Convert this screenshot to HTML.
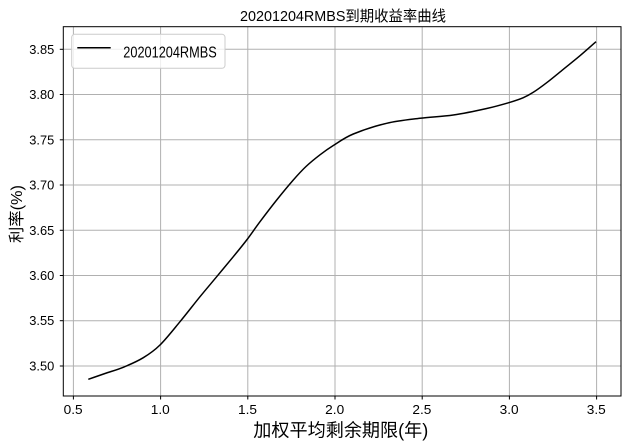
<!DOCTYPE html>
<html><head><meta charset="utf-8"><style>
html,body{margin:0;padding:0;background:#fff;}
svg{display:block;}
text{font-family:"Liberation Sans","Noto Sans CJK SC",sans-serif;fill:#000;}
</style></head><body>
<svg width="632" height="444" viewBox="0 0 632 444" xmlns="http://www.w3.org/2000/svg">
<rect x="0" y="0" width="632" height="444" fill="#fff"/>
<!-- grid -->
<g stroke="#b0b0b0" stroke-width="1" fill="none">
<line x1="73.4" y1="26.7" x2="73.4" y2="396"/>
<line x1="160.6" y1="26.7" x2="160.6" y2="396"/>
<line x1="247.8" y1="26.7" x2="247.8" y2="396"/>
<line x1="335" y1="26.7" x2="335" y2="396"/>
<line x1="422.2" y1="26.7" x2="422.2" y2="396"/>
<line x1="509.4" y1="26.7" x2="509.4" y2="396"/>
<line x1="596.6" y1="26.7" x2="596.6" y2="396"/>
<line x1="63.3" y1="49.3" x2="621" y2="49.3"/>
<line x1="63.3" y1="94.5" x2="621" y2="94.5"/>
<line x1="63.3" y1="139.8" x2="621" y2="139.8"/>
<line x1="63.3" y1="185" x2="621" y2="185"/>
<line x1="63.3" y1="230.3" x2="621" y2="230.3"/>
<line x1="63.3" y1="275.5" x2="621" y2="275.5"/>
<line x1="63.3" y1="320.7" x2="621" y2="320.7"/>
<line x1="63.3" y1="366" x2="621" y2="366"/>
</g>
<!-- curve -->
<path fill="none" stroke="#000" stroke-width="1.5" stroke-linejoin="round" d="M88.3,379.3
C93.87,377.37 99.17,375.5 105,373.5
C110.83,371.5 116.92,369.93 123.3,367.3
C129.68,364.67 137.18,361.42 143.3,357.7
C149.42,353.98 153.88,351 160,345
C166.12,339 173.33,329.75 180,321.7
C186.67,313.65 193.88,304.2 200,296.7
C206.12,289.2 211.15,283.37 216.7,276.7
C222.25,270.03 228.3,262.82 233.3,256.7
C238.3,250.58 242.25,245.83 246.7,240
C251.15,234.17 255,228.37 260,221.7
C265,215.03 271.15,206.95 276.7,200
C282.25,193.05 288.42,185.58 293.3,180
C298.18,174.42 301.55,170.7 306,166.5
C310.45,162.3 315.45,158.3 320,154.8
C324.55,151.3 327.75,148.97 333.3,145.5
C338.85,142.03 344.4,137.7 353.3,134
C362.2,130.3 375.58,125.92 386.7,123.3
C397.82,120.68 408.9,119.68 420,118.3
C431.1,116.92 442.18,116.63 453.3,115
C464.42,113.37 477.25,110.62 486.7,108.5
C496.15,106.38 503.9,104.1 510,102.3
C516.1,100.5 519.42,99.37 523.3,97.7
C527.18,96.03 529.4,94.8 533.3,92.3
C537.2,89.8 541.7,86.53 546.7,82.7
C551.7,78.87 557.75,73.8 563.3,69.3
C568.85,64.8 574.55,60.3 580,55.7
C585.45,51.1 590.67,46.37 596,41.7"/>
<!-- axes frame -->
<rect x="63.3" y="26.7" width="557.7" height="369.3" fill="none" stroke="#000" stroke-width="1"/>
<!-- ticks -->
<g stroke="#000" stroke-width="1">
<line x1="73.4" y1="396" x2="73.4" y2="399.5"/>
<line x1="160.6" y1="396" x2="160.6" y2="399.5"/>
<line x1="247.8" y1="396" x2="247.8" y2="399.5"/>
<line x1="335" y1="396" x2="335" y2="399.5"/>
<line x1="422.2" y1="396" x2="422.2" y2="399.5"/>
<line x1="509.4" y1="396" x2="509.4" y2="399.5"/>
<line x1="596.6" y1="396" x2="596.6" y2="399.5"/>
<line x1="59.8" y1="49.3" x2="63.3" y2="49.3"/>
<line x1="59.8" y1="94.5" x2="63.3" y2="94.5"/>
<line x1="59.8" y1="139.8" x2="63.3" y2="139.8"/>
<line x1="59.8" y1="185" x2="63.3" y2="185"/>
<line x1="59.8" y1="230.3" x2="63.3" y2="230.3"/>
<line x1="59.8" y1="275.5" x2="63.3" y2="275.5"/>
<line x1="59.8" y1="320.7" x2="63.3" y2="320.7"/>
<line x1="59.8" y1="366" x2="63.3" y2="366"/>
</g>
<!-- x tick labels -->
<g font-size="12.5">
<text x="63.6" y="414" textLength="19" lengthAdjust="spacingAndGlyphs">0.5</text>
<text x="150.8" y="414" textLength="19" lengthAdjust="spacingAndGlyphs">1.0</text>
<text x="238" y="414" textLength="19" lengthAdjust="spacingAndGlyphs">1.5</text>
<text x="325.2" y="414" textLength="19" lengthAdjust="spacingAndGlyphs">2.0</text>
<text x="412.4" y="414" textLength="19" lengthAdjust="spacingAndGlyphs">2.5</text>
<text x="499.6" y="414" textLength="19" lengthAdjust="spacingAndGlyphs">3.0</text>
<text x="586.8" y="414" textLength="19" lengthAdjust="spacingAndGlyphs">3.5</text>
</g>
<!-- y tick labels -->
<g font-size="12.5">
<text x="29.3" y="53.8" textLength="25" lengthAdjust="spacingAndGlyphs">3.85</text>
<text x="29.3" y="99" textLength="25" lengthAdjust="spacingAndGlyphs">3.80</text>
<text x="29.3" y="144.3" textLength="25" lengthAdjust="spacingAndGlyphs">3.75</text>
<text x="29.3" y="189.5" textLength="25" lengthAdjust="spacingAndGlyphs">3.70</text>
<text x="29.3" y="234.8" textLength="25" lengthAdjust="spacingAndGlyphs">3.65</text>
<text x="29.3" y="280" textLength="25" lengthAdjust="spacingAndGlyphs">3.60</text>
<text x="29.3" y="325.2" textLength="25" lengthAdjust="spacingAndGlyphs">3.55</text>
<text x="29.3" y="370.5" textLength="25" lengthAdjust="spacingAndGlyphs">3.50</text>
</g>
<!-- title -->
<text x="240" y="21" font-size="15" textLength="206" lengthAdjust="spacingAndGlyphs">20201204RMBS到期收益率曲线</text>
<!-- axis labels -->
<text x="253.3" y="436.5" font-size="18" textLength="175" lengthAdjust="spacingAndGlyphs">加权平均剩余期限(年)</text>
<text x="0" y="0" font-size="16" text-anchor="middle" textLength="58" lengthAdjust="spacingAndGlyphs" transform="translate(22,214) rotate(-90)">利率(%)</text>
<!-- legend -->
<rect x="71.7" y="34.3" width="153.3" height="34" rx="3" ry="3" fill="#fff" fill-opacity="0.8" stroke="#cccccc" stroke-width="1"/>
<line x1="77.3" y1="47.7" x2="110.7" y2="47.7" stroke="#000" stroke-width="1.5"/>
<text x="123.3" y="57.3" font-size="15.5" textLength="93.4" lengthAdjust="spacingAndGlyphs">20201204RMBS</text>
</svg>
</body></html>
